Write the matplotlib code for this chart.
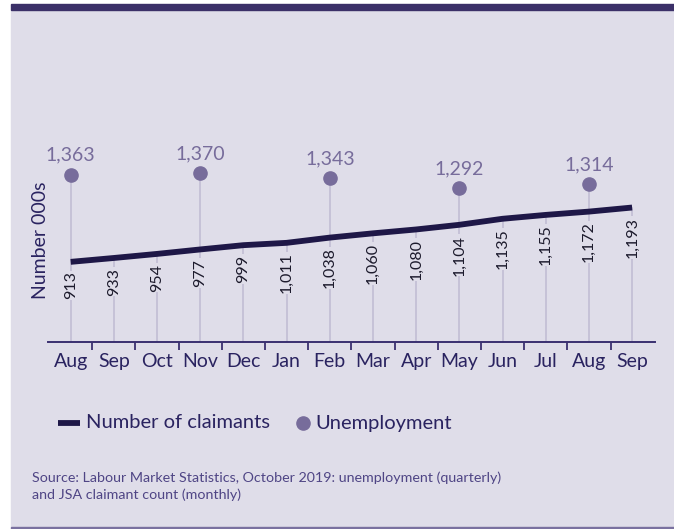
import matplotlib
matplotlib.use("Agg")
import matplotlib.pyplot as plt
from matplotlib.lines import Line2D
from matplotlib.patches import Rectangle

# Claimant count (monthly) and unemployment (quarterly), thousands
months = ["Aug", "Sep", "Oct", "Nov", "Dec", "Jan", "Feb",
          "Mar", "Apr", "May", "Jun", "Jul", "Aug", "Sep"]
claimants = [913, 933, 954, 977, 999, 1011, 1038,
             1060, 1080, 1104, 1135, 1155, 1172, 1193]
unemp_idx = [0, 3, 6, 9, 12]
unemployment = [1363, 1370, 1343, 1292, 1314]

BG = "#dfdde9"
DARK = "#1e1747"
DOT = "#776c9b"
STEM = "#bfbad2"
TXT = "#2a2360"

plt.rcParams["font.family"] = ["Lato", "DejaVu Sans"]

W, H = 674, 529
fig = plt.figure(figsize=(W / 100, H / 100), dpi=100)
fig.patch.set_facecolor("white")


# pixel coords -> figure fraction
def fx(px):
    return px / W


def fy(py):
    return 1 - py / H


# panel, top bar, bottom rule
fig.patches.append(Rectangle((fx(11), fy(527)), 1 - fx(11), fy(10) - fy(527),
                             transform=fig.transFigure, color=BG, zorder=-5))
fig.patches.append(Rectangle((fx(11), fy(10)), 1 - fx(11), fy(4) - fy(10),
                             transform=fig.transFigure, color="#3b3068", zorder=-5))
fig.patches.append(Rectangle((fx(11), fy(528.5)), 1 - fx(11), fy(527) - fy(528.5),
                             transform=fig.transFigure, color="#7a71a0", zorder=-5))

ax = fig.add_axes([fx(48), fy(342), fx(655) - fx(48), fy(140) - fy(342)])
ax.set_zorder(2)
ax.set_facecolor("none")
x = list(range(len(months)))

# stems from axis up to the line / dot
for i, v in enumerate(claimants):
    top = v
    if i in unemp_idx:
        top = unemployment[unemp_idx.index(i)]
    ax.plot([i, i], [500, top], color=STEM, lw=1.1, zorder=1)

ax.plot(x, claimants, color=DARK, lw=4.2, solid_capstyle="butt", zorder=3)
ax.plot(unemp_idx, unemployment, "o", ls="none", color=DOT, ms=9.5, zorder=4)

for i, v in enumerate(claimants):
    ax.annotate(f"{v:,}", (i, v), xytext=(0, -7), textcoords="offset points",
                rotation=90, ha="center", va="top", fontsize=11.5, color="#1c1a2c",
                bbox=dict(boxstyle="square,pad=0.05", fc=BG, ec="none"), zorder=2)
for i, v in zip(unemp_idx, unemployment):
    ax.annotate(f"{v:,}", (i, v), xytext=(0, 8), textcoords="offset points",
                ha="center", va="bottom", fontsize=14, color=DOT)

ax.set_xlim(-0.525, 13.53)
ax.set_ylim(500, 1541)
for s in ["top", "right", "left"]:
    ax.spines[s].set_visible(False)
ax.spines["bottom"].set_color("#3a3070")
ax.spines["bottom"].set_linewidth(1.4)
ax.set_yticks([])
ax.set_xticks([i + 0.5 for i in range(13)])
ax.set_xticklabels([])
ax.set_xticks(x, minor=True)
ax.set_xticklabels(months, minor=True, fontsize=14, color=TXT)
ax.tick_params(axis="x", which="major", length=6, width=1.3, color="#3a3070")
ax.tick_params(axis="x", which="minor", length=0, pad=8)

fig.text(fx(40), fy(240), "Number 000s", rotation=90, ha="center", va="center",
         fontsize=14, color=TXT)

# legend, drawn by hand
fig.add_artist(Line2D([fx(58), fx(80)], [fy(423), fy(423)], color=DARK, lw=4.2,
                      solid_capstyle="butt", transform=fig.transFigure))
fig.text(fx(86), fy(423), "Number of claimants", ha="left", va="center",
         fontsize=14.5, color=TXT)
fig.add_artist(Line2D([fx(303)], [fy(423)], marker="o", ls="none", color=DOT,
                      ms=9.5, transform=fig.transFigure))
fig.text(fx(315), fy(423), "Unemployment", ha="left", va="center",
         fontsize=14.5, color=TXT)

fig.text(fx(32), fy(486), "Source: Labour Market Statistics, October 2019: unemployment (quarterly)\n"
         "and JSA claimant count (monthly)", ha="left", va="center", fontsize=10.3,
         color="#4f4585", linespacing=1.45)

fig.savefig("out.png", dpi=100)
